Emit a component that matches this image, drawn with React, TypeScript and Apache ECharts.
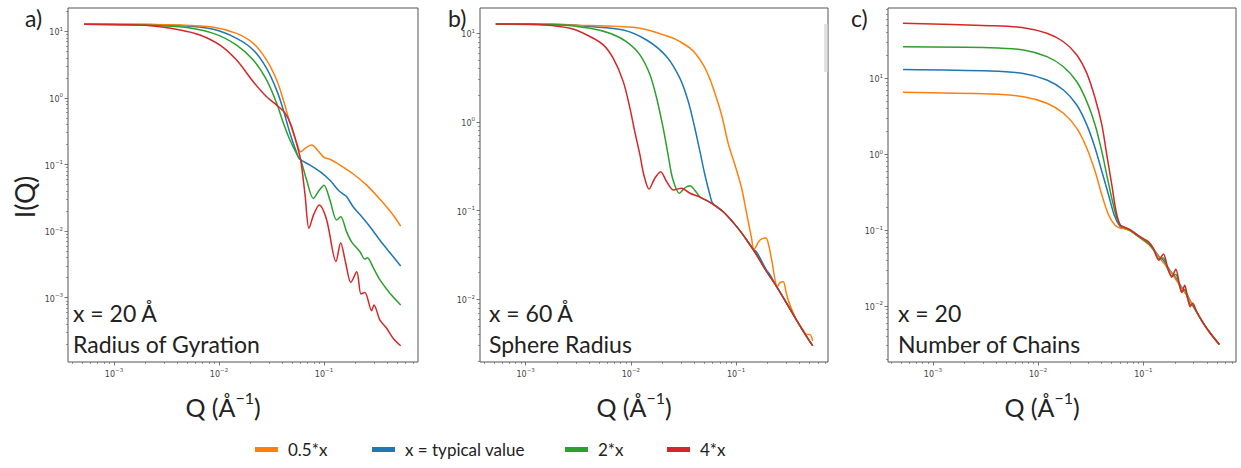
import React, { useEffect, useRef } from 'react';
import * as echarts from 'echarts';

// ---------- data ----------
const SERIES_NAMES = ['x = typical value', '0.5*x', '2*x', '4*x'];
const SERIES_COLORS = ['#1f77b4', '#ff7f0e', '#2ca02c', '#d62728'];
const LEGEND_ORDER = ['0.5*x', 'x = typical value', '2*x', '4*x'];

// Panel a) Radius of Gyration: [Q, I(Q)]
const rgTypical = [[0.00052,12.8],[0.001,12.8],[0.00426,12.2],[0.00883,10.7],[0.0147,7.85],[0.0212,5.25],[0.0284,2.78],[0.0354,1.31],[0.041,0.66],[0.0474,0.295],[0.0569,0.13],[0.06,0.117],[0.0736,0.098],[0.0916,0.078],[0.114,0.058],[0.137,0.041],[0.152,0.036],[0.164,0.033],[0.19,0.023],[0.229,0.0164],[0.274,0.0116],[0.341,0.0073],[0.426,0.0047],[0.537,0.003]];
const rgHalf = [[0.00052,12.8],[0.001,12.8],[0.00426,12.4],[0.00883,11.5],[0.0147,9.3],[0.0212,6.6],[0.0284,3.7],[0.0354,1.86],[0.041,0.93],[0.0474,0.42],[0.055,0.21],[0.06,0.155],[0.067,0.178],[0.0764,0.196],[0.088,0.16],[0.1,0.128],[0.114,0.12],[0.142,0.098],[0.19,0.072],[0.255,0.049],[0.341,0.03],[0.442,0.0185],[0.537,0.0119]];
const rgDouble = [[0.00052,12.8],[0.001,12.7],[0.00426,11.7],[0.00883,9.3],[0.0147,6.2],[0.0212,3.7],[0.0284,1.86],[0.0354,0.83],[0.041,0.42],[0.0474,0.233],[0.0569,0.13],[0.06,0.117],[0.0684,0.058],[0.0791,0.031],[0.089,0.04],[0.1,0.049],[0.114,0.029],[0.132,0.0147],[0.144,0.0164],[0.164,0.0098],[0.183,0.0069],[0.22,0.0049],[0.245,0.0038],[0.259,0.004],[0.295,0.0028],[0.341,0.00185],[0.426,0.00116],[0.537,0.00078]];
const rgQuad = [[0.00052,12.8],[0.001,12.6],[0.002,12.3],[0.00426,10.5],[0.00659,8.8],[0.0102,6.2],[0.0147,3.7],[0.0212,1.75],[0.0284,1.04],[0.0354,0.78],[0.0426,0.59],[0.0492,0.37],[0.0569,0.165],[0.06,0.117],[0.066,0.035],[0.0719,0.011],[0.08,0.018],[0.0902,0.0247],[0.106,0.0147],[0.13,0.0035],[0.144,0.0067],[0.161,0.0033],[0.18,0.0017],[0.205,0.00246],[0.225,0.00114],[0.245,0.0012],[0.284,0.00064],[0.299,0.00078],[0.341,0.00046],[0.389,0.00036],[0.457,0.000245],[0.537,0.00019]];

// Panel b) Sphere Radius
const srTypical = [[0.00052,12.7],[0.002,12.6],[0.00408,11.9],[0.00847,10.9],[0.0141,8.4],[0.0219,5.45],[0.0293,3.1],[0.0352,1.69],[0.0406,0.85],[0.0454,0.462],[0.0506,0.252],[0.0565,0.15],[0.06,0.121],[0.0755,0.097],[0.1014,0.066],[0.1262,0.0467],[0.145,0.037],[0.157,0.034],[0.1954,0.0212],[0.21,0.019],[0.243,0.0139],[0.303,0.009],[0.377,0.0058],[0.469,0.0038],[0.535,0.003]];
const srHalf = [[0.00052,12.7],[0.00408,12.2],[0.0122,11.4],[0.0253,8.8],[0.0293,8.04],[0.0365,6.8],[0.0422,5.69],[0.0488,4.4],[0.0544,3.39],[0.0607,2.4],[0.0729,1.2],[0.0843,0.57],[0.0977,0.327],[0.113,0.179],[0.126,0.093],[0.14,0.05],[0.148,0.0366],[0.169,0.0467],[0.192,0.049],[0.205,0.04],[0.218,0.0278],[0.247,0.0139],[0.263,0.0155],[0.281,0.0158],[0.3,0.0118],[0.321,0.009],[0.377,0.0058],[0.435,0.0045],[0.47,0.004],[0.504,0.004],[0.535,0.0034]];
const srDouble = [[0.00052,12.7],[0.002,12.5],[0.00408,11.4],[0.00632,10.0],[0.00912,8.0],[0.0122,5.7],[0.0152,3.4],[0.0176,1.85],[0.0203,0.85],[0.0226,0.425],[0.0249,0.232],[0.0289,0.157],[0.0325,0.18],[0.0365,0.191],[0.0405,0.17],[0.0438,0.15],[0.0454,0.142],[0.0586,0.121],[0.0755,0.097],[0.1014,0.066],[0.1262,0.0467],[0.157,0.0316],[0.1954,0.0205],[0.243,0.0139],[0.303,0.009],[0.377,0.0058],[0.469,0.0038],[0.535,0.003]];
const srQuad = [[0.00052,12.7],[0.0015,12.4],[0.0027,11.3],[0.00408,9.2],[0.00547,7.4],[0.00681,5.2],[0.00847,2.85],[0.0098,1.43],[0.0109,0.776],[0.0122,0.425],[0.0133,0.252],[0.0149,0.175],[0.0169,0.232],[0.0192,0.275],[0.0219,0.212],[0.0253,0.171],[0.0304,0.179],[0.0365,0.157],[0.0454,0.142],[0.0586,0.121],[0.0755,0.097],[0.1014,0.066],[0.1262,0.0467],[0.157,0.0316],[0.1954,0.0205],[0.243,0.0139],[0.303,0.009],[0.377,0.0058],[0.469,0.0038],[0.535,0.003]];

// Panel c) Number of Chains
const ncTypical = [[0.00052,13.1],[0.0035,12.5],[0.00724,11.6],[0.0121,9.5],[0.0174,7.0],[0.0233,4.45],[0.029,2.43],[0.0348,1.2],[0.0403,0.59],[0.0467,0.29],[0.0528,0.158],[0.0601,0.111],[0.0646,0.107],[0.0748,0.099],[0.0865,0.085],[0.1,0.074],[0.1156,0.063],[0.134,0.049],[0.145,0.043],[0.155,0.04],[0.179,0.0295],[0.203,0.0235],[0.24,0.0163],[0.25,0.0158],[0.278,0.0118],[0.321,0.0083],[0.372,0.0059],[0.431,0.0044],[0.527,0.0031]];
const ncHalf = [[0.00052,6.55],[0.0035,6.2],[0.00724,5.73],[0.0121,4.69],[0.0174,3.46],[0.0233,2.19],[0.029,1.2],[0.0348,0.59],[0.0403,0.29],[0.0467,0.158],[0.0536,0.117],[0.0601,0.106],[0.0646,0.105],[0.0748,0.098],[0.0865,0.085],[0.1,0.073],[0.1156,0.062],[0.134,0.048],[0.155,0.037],[0.179,0.029],[0.207,0.0215],[0.24,0.016],[0.278,0.0118],[0.321,0.0083],[0.372,0.0059],[0.431,0.0044],[0.527,0.0031]];
const ncDouble = [[0.00052,26],[0.0035,25.3],[0.00724,23.6],[0.0121,19.3],[0.0174,14.2],[0.0233,9.0],[0.029,4.92],[0.0348,2.43],[0.0403,1.08],[0.0449,0.53],[0.0501,0.262],[0.056,0.143],[0.061,0.113],[0.0646,0.109],[0.0748,0.099],[0.0865,0.086],[0.1,0.075],[0.112,0.066],[0.125,0.055],[0.14,0.042],[0.155,0.043],[0.17,0.031],[0.186,0.025],[0.203,0.026],[0.22,0.0185],[0.232,0.0155],[0.247,0.0165],[0.262,0.0128],[0.278,0.0105],[0.294,0.0102],[0.321,0.0083],[0.372,0.0059],[0.431,0.0044],[0.527,0.0031]];
const ncQuad = [[0.00052,53],[0.0035,49.3],[0.00724,46.4],[0.0121,39.2],[0.0174,30.3],[0.0233,20.3],[0.029,11.6],[0.0348,5.46],[0.0403,2.43],[0.0449,0.977],[0.0501,0.393],[0.0551,0.175],[0.0601,0.117],[0.0646,0.111],[0.0748,0.101],[0.0865,0.088],[0.1,0.077],[0.112,0.07],[0.125,0.057],[0.14,0.04],[0.155,0.0484],[0.17,0.032],[0.186,0.0239],[0.203,0.0305],[0.22,0.0195],[0.232,0.015],[0.247,0.0187],[0.262,0.0132],[0.278,0.0098],[0.294,0.0109],[0.321,0.0084],[0.372,0.0059],[0.431,0.0044],[0.527,0.0031]];

const PANEL_DATA = [
  [rgTypical, rgHalf, rgDouble, rgQuad],
  [srTypical, srHalf, srDouble, srQuad],
  [ncTypical, ncHalf, ncDouble, ncQuad],
];

const X_MAJOR_TICKS = [0.001, 0.01, 0.1];
const Y_MAJOR_TICKS = [
  [10, 1, 0.1, 0.01, 0.001],
  [10, 1, 0.1, 0.01],
  [10, 1, 0.1, 0.01],
];
const PANEL_LABELS = ['a)', 'b)', 'c)'];
const PANEL_VALUE_TEXT = ['x = 20 Å', 'x = 60 Å', 'x = 20'];
const PANEL_PARAM_TEXT = ['Radius of Gyration', 'Sphere Radius', 'Number of Chains'];
const Y_TITLE = 'I(Q)';

// ---------- layout ----------
const GRIDS = [
  { left: 68, top: 8, width: 350, height: 354 },
  { left: 480, top: 8, width: 348, height: 354 },
  { left: 888, top: 8, width: 348, height: 354 },
];
const X_EXP = [[-3.438, -0.105], [-3.434, -0.126], [-3.427, -0.12]];
const Y_EXP = [[-3.965, 1.35], [-2.707, 1.285], [-2.738, 1.926]];
const LEGEND_LEFT = [255, 372, 565, 667];
const FRAME = '#555';
const TEXT_FONT = 'Lato, "Open Sans", sans-serif';
const TICK_FONT = '"DejaVu Sans", sans-serif';

function minorTicks(lo: number, hi: number): number[] {
  const out: number[] = [];
  for (let d = Math.floor(lo); d <= Math.ceil(hi); d++) {
    for (let k = 2; k <= 9; k++) {
      const v = k * Math.pow(10, d);
      const l = Math.log10(v);
      if (l > lo && l < hi) out.push(v);
    }
  }
  return out;
}

function powLabel(v: number): string {
  const e = Math.round(Math.log10(v));
  return `{b|10}{s|${e < 0 ? '\u2212' + -e : e}}`;
}

const tickRich = {
  b: { fontSize: 8, fontFamily: TICK_FONT, color: '#444', lineHeight: 11, verticalAlign: 'bottom' },
  s: { fontSize: 5.5, fontFamily: TICK_FONT, color: '#444', lineHeight: 11, verticalAlign: 'top' },
};

function buildOption() {
  const xAxis: any[] = [];
  const yAxis: any[] = [];
  GRIDS.forEach((g, i) => {
    xAxis.push({
      type: 'log', gridIndex: i, position: 'bottom',
      min: Math.pow(10, X_EXP[i][0]), max: Math.pow(10, X_EXP[i][1]),
      axisLine: { show: false },
      axisTick: { show: true, length: 3.5, customValues: X_MAJOR_TICKS, lineStyle: { color: FRAME, width: 0.8 } },
      axisLabel: { customValues: X_MAJOR_TICKS, formatter: powLabel, rich: tickRich, margin: 5 },
      splitLine: { show: false },
      name: '{q|Q (Å}{sup|\u22121}{q|)}',
      nameLocation: 'middle', nameGap: 27,
      nameTextStyle: {
        padding: [0, 40, 0, 0],
        rich: {
          q: { fontSize: 25, fontFamily: TEXT_FONT, color: '#222', lineHeight: 30, verticalAlign: 'bottom' },
          sup: { fontSize: 16, fontFamily: TEXT_FONT, color: '#222', lineHeight: 30, verticalAlign: 'top' },
        },
      },
    });
    yAxis.push({
      type: 'log', gridIndex: i, position: 'left',
      min: Math.pow(10, Y_EXP[i][0]), max: Math.pow(10, Y_EXP[i][1]),
      axisLine: { show: false },
      axisTick: { show: true, length: 3.5, customValues: Y_MAJOR_TICKS[i], lineStyle: { color: FRAME, width: 0.8 } },
      axisLabel: { customValues: Y_MAJOR_TICKS[i], formatter: powLabel, rich: tickRich, margin: 5 },
      splitLine: { show: false },
    });
  });
  GRIDS.forEach((g, i) => {
    xAxis.push({
      type: 'log', gridIndex: i, position: 'bottom',
      min: Math.pow(10, X_EXP[i][0]), max: Math.pow(10, X_EXP[i][1]),
      axisLine: { show: false },
      axisTick: { show: true, length: 2, customValues: minorTicks(X_EXP[i][0], X_EXP[i][1]), lineStyle: { color: FRAME, width: 0.6 } },
      axisLabel: { show: false }, splitLine: { show: false },
    });
    yAxis.push({
      type: 'log', gridIndex: i, position: 'left',
      min: Math.pow(10, Y_EXP[i][0]), max: Math.pow(10, Y_EXP[i][1]),
      axisLine: { show: false },
      axisTick: { show: true, length: 2, customValues: minorTicks(Y_EXP[i][0], Y_EXP[i][1]), lineStyle: { color: FRAME, width: 0.6 } },
      axisLabel: { show: false }, splitLine: { show: false },
    });
  });

  const series: any[] = [];
  PANEL_DATA.forEach((panel, i) => {
    panel.forEach((data, k) => {
      series.push({
        type: 'line', name: SERIES_NAMES[k], xAxisIndex: i, yAxisIndex: i,
        data, showSymbol: false, symbol: 'none', smooth: 0.3, silent: true,
        lineStyle: { width: 1.5, color: SERIES_COLORS[k] },
        itemStyle: { color: SERIES_COLORS[k] },
      });
    });
  });

  const graphic: any[] = [];
  const labelX = [25, 448, 851];
  const annX = [73, 489, 898];
  GRIDS.forEach((g, i) => {
    graphic.push({ type: 'text', x: labelX[i], y: 18, style: { text: PANEL_LABELS[i], fontSize: 23, fontFamily: TEXT_FONT, fill: '#222', align: 'left', verticalAlign: 'middle' } });
    graphic.push({ type: 'text', x: annX[i], y: 313, style: { text: PANEL_VALUE_TEXT[i], fontSize: 23, fontFamily: TEXT_FONT, fill: '#222', align: 'left', verticalAlign: 'middle' } });
    graphic.push({ type: 'text', x: annX[i], y: 344, style: { text: PANEL_PARAM_TEXT[i], fontSize: 23, fontFamily: TEXT_FONT, fill: '#222', align: 'left', verticalAlign: 'middle' } });
  });
  graphic.push({ type: 'text', x: 24, y: 197, rotation: Math.PI / 2, style: { text: Y_TITLE, fontSize: 27, fontFamily: TEXT_FONT, fill: '#222', align: 'center', verticalAlign: 'middle' } });
  graphic.push({ type: 'rect', shape: { x: 824, y: 24, width: 3.5, height: 48 }, style: { fill: '#e2e2e2' } });

  const legend = LEGEND_ORDER.map((name, k) => ({
    data: [name], left: LEGEND_LEFT[k], top: 441, icon: 'rect', itemWidth: 23, itemHeight: 5,
    selectedMode: false, padding: 0,
    textStyle: { fontSize: 17, fontFamily: TEXT_FONT, color: '#222', padding: [0, 0, 0, 5] },
  }));

  return {
    animation: false,
    backgroundColor: '#fff',
    grid: GRIDS.map((g) => ({ ...g, show: true, borderColor: FRAME, borderWidth: 1, backgroundColor: '#fff', containLabel: false })),
    xAxis, yAxis, series, legend, graphic,
  };
}

export default function App() {
  const ref = useRef<HTMLDivElement>(null);
  useEffect(() => {
    if (!ref.current) return;
    const chart = echarts.init(ref.current, undefined, { renderer: 'svg' });
    chart.setOption(buildOption() as any);
    return () => chart.dispose();
  }, []);
  return <div ref={ref} style={{ position: 'absolute', left: 0, top: 0, width: 1241, height: 468 }} />;
}
